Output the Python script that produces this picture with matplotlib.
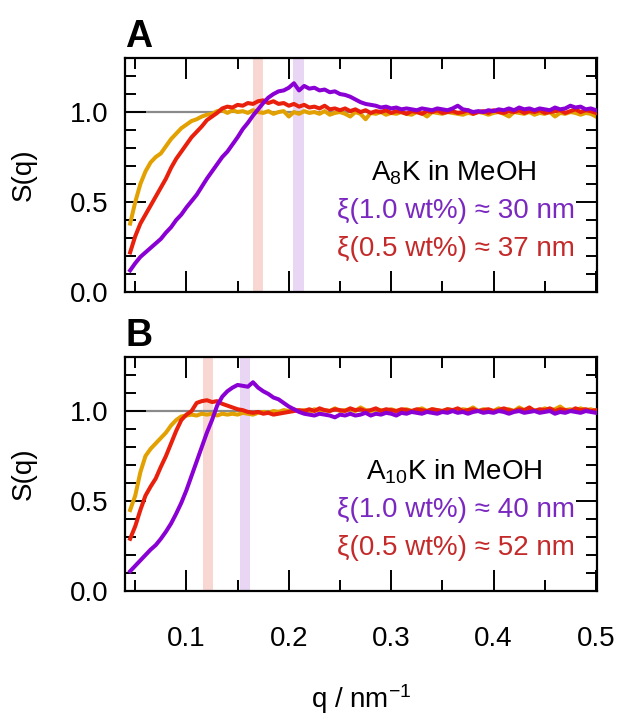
import numpy as np
import matplotlib
matplotlib.use("Agg")
import matplotlib.pyplot as plt
from matplotlib.ticker import MultipleLocator

plt.rcParams['font.family'] = ['Liberation Sans', 'DejaVu Sans']
plt.rcParams['mathtext.default'] = 'regular'

# q grid of the sampled curves (nm^-1)
q = np.round(np.arange(0.045, 0.5001, 0.005), 3)

# Panel A: A8K in MeOH
orange_A = [0.38, 0.50, 0.60, 0.67, 0.72, 0.75, 0.77, 0.81, 0.85, 0.88,
            0.91, 0.93, 0.95, 0.96, 0.975, 0.985, 0.99, 1.005, 1.01, 0.995,
            1.01, 1.0, 1.005, 0.995, 1.01, 1.0, 0.995, 1.005, 0.99, 1.0,
            1.005, 0.975, 1.0, 0.99, 1.005, 0.995, 1.0, 0.99, 1.005, 0.985,
            0.995, 1.0, 0.99, 0.975, 1.0, 0.99, 0.96, 0.995, 0.99, 1.0,
            0.985, 0.995, 0.99, 1.0, 0.99, 0.985, 1.0, 0.995, 0.975, 1.0,
            0.995, 0.99, 1.0, 0.995, 0.99, 0.985, 0.995, 0.99, 1.0, 0.995,
            0.985, 0.995, 1.0, 0.99, 0.975, 1.0, 0.995, 0.99, 1.0, 0.985,
            0.995, 0.99, 1.0, 0.975, 0.995, 0.99, 1.0, 0.995, 0.985, 0.995,
            0.99, 0.975]
red_A = [0.22, 0.31, 0.38, 0.43, 0.48, 0.53, 0.58, 0.63, 0.69, 0.74,
         0.78, 0.82, 0.86, 0.89, 0.92, 0.955, 0.975, 0.995, 1.02, 1.03,
         1.025, 1.04, 1.035, 1.05, 1.045, 1.06, 1.065, 1.05, 1.06, 1.045,
         1.05, 1.035, 1.045, 1.03, 1.04, 1.025, 1.03, 1.02, 1.035, 1.015,
         1.02, 1.01, 1.02, 1.005, 1.015, 1.0, 1.01, 0.995, 1.005, 1.0,
         1.01, 0.995, 1.005, 1.0, 0.99, 1.005, 1.0, 0.99, 1.005, 1.0,
         1.01, 0.995, 1.0, 1.005, 0.995, 1.0, 1.01, 0.99, 1.0, 1.005,
         0.995, 1.01, 1.0, 0.995, 1.005, 1.0, 1.01, 0.995, 1.005, 1.0,
         1.01, 0.995, 1.0, 1.005, 1.01, 0.995, 1.005, 1.015, 1.0, 1.01,
         1.005, 0.995]
purple_A = [0.12, 0.16, 0.195, 0.22, 0.245, 0.27, 0.295, 0.33, 0.36, 0.40,
            0.43, 0.47, 0.505, 0.54, 0.585, 0.63, 0.67, 0.71, 0.75, 0.78,
            0.82, 0.86, 0.905, 0.94, 0.98, 1.015, 1.05, 1.08, 1.10, 1.115,
            1.12, 1.135, 1.16, 1.12, 1.145, 1.13, 1.135, 1.12, 1.125, 1.11,
            1.115, 1.10, 1.095, 1.085, 1.07, 1.055, 1.045, 1.04, 1.035, 1.025,
            1.03, 1.02, 1.025, 1.015, 1.02, 1.015, 1.01, 1.02, 1.015, 1.01,
            1.02, 1.015, 1.01, 1.02, 1.035, 1.015, 1.01, 1.0, 1.005, 1.0,
            1.01, 1.005, 1.015, 1.01, 1.02, 1.01, 1.025, 1.015, 1.02, 1.01,
            1.02, 1.015, 1.01, 1.025, 1.015, 1.02, 1.035, 1.025, 1.03, 1.015,
            1.02, 1.01]

# Panel B: A10K in MeOH
orange_B = [0.45, 0.53, 0.66, 0.75, 0.79, 0.82, 0.85, 0.88, 0.92, 0.95,
            0.97, 0.975, 0.98, 0.975, 0.985, 0.98, 0.985, 0.975, 0.985, 0.98,
            0.985, 0.98, 0.99, 0.985, 0.98, 0.99, 0.995, 0.99, 1.0, 0.995,
            1.005, 1.0, 1.01, 1.0, 1.005, 0.995, 1.01, 1.0, 1.005, 1.0,
            1.015, 1.0, 1.005, 1.01, 1.0, 1.02, 1.005, 1.0, 1.01, 1.005,
            1.0, 1.01, 1.0, 1.005, 1.01, 1.0, 1.005, 1.015, 1.0, 1.01,
            1.005, 1.0, 1.01, 1.005, 1.0, 1.01, 1.005, 1.02, 1.0, 1.01,
            1.005, 1.0, 1.015, 1.005, 1.01, 1.0, 1.02, 1.005, 1.01, 1.005,
            1.0, 1.015, 1.005, 1.01, 1.025, 1.005, 1.01, 1.0, 1.015, 1.005,
            1.01, 1.0]
red_B = [0.29, 0.36, 0.45, 0.53, 0.58, 0.625, 0.69, 0.75, 0.82, 0.89,
         0.95, 0.98, 1.0, 1.045, 1.055, 1.06, 1.05, 1.055, 1.04, 1.03,
         1.02, 1.01, 1.005, 0.995, 0.99, 0.995, 0.985, 0.99, 0.98, 0.985,
         0.99, 0.995, 1.0, 1.005, 1.0, 1.01, 1.0, 1.015, 1.005, 1.0,
         1.01, 1.005, 1.0, 1.015, 1.005, 1.01, 1.0, 1.005, 1.015, 1.0,
         1.01, 1.005, 1.0, 1.01, 1.005, 1.0, 1.01, 1.005, 1.0, 1.01,
         1.005, 1.0, 1.01, 1.005, 1.015, 1.0, 1.005, 1.01, 1.0, 1.005,
         1.01, 1.0, 1.005, 1.015, 1.005, 1.0, 1.01, 1.005, 1.02, 1.0,
         1.01, 1.005, 1.015, 1.0, 1.01, 1.005, 1.0, 1.015, 1.005, 1.01,
         1.0, 1.005]
purple_B = [0.11, 0.14, 0.17, 0.20, 0.23, 0.255, 0.29, 0.33, 0.375, 0.43,
            0.49, 0.56, 0.64, 0.72, 0.80, 0.88, 0.95, 1.03, 1.08, 1.11,
            1.13, 1.145, 1.14, 1.135, 1.16, 1.13, 1.11, 1.095, 1.075, 1.065,
            1.045, 1.025, 1.01, 0.995, 0.985, 0.98, 0.975, 0.985, 0.98, 0.975,
            0.965, 0.98, 0.975, 0.985, 0.975, 0.98, 0.99, 0.975, 0.985, 0.98,
            0.99, 0.985, 0.975, 0.99, 0.985, 0.995, 0.99, 0.985, 0.995, 0.99,
            0.985, 0.995, 0.99, 1.0, 0.99, 0.995, 0.985, 0.995, 1.0, 0.99,
            0.995, 0.99, 1.0, 0.995, 0.985, 0.995, 1.0, 0.99, 0.995, 1.0,
            0.99, 0.995, 1.0, 0.985, 0.995, 0.99, 1.0, 0.995, 0.99, 1.0,
            0.995, 0.99]

# correlation lengths (nm) -> marked at q = 2*pi/xi
xi_A = {"1.0": 30, "0.5": 37}
xi_B = {"1.0": 40, "0.5": 52}

C_ORANGE = "#e2a100"
C_RED = "#e8200c"
C_PURPLE = "#8a00d4"


def draw_panel(ax, orange, red, purple, xi, name, letter):
    ax.axvspan(2 * np.pi / xi["0.5"] - 0.005, 2 * np.pi / xi["0.5"] + 0.005,
               color="#f8d6d2", lw=0, zorder=0)
    ax.axvspan(2 * np.pi / xi["1.0"] - 0.005, 2 * np.pi / xi["1.0"] + 0.005,
               color="#e9d6f4", lw=0, zorder=0)
    ax.axhline(1.0, color="#8a8a8a", lw=1.6, zorder=1)
    ax.plot(q, orange, color=C_ORANGE, lw=2.9, zorder=2)
    ax.plot(q, red, color=C_RED, lw=2.9, zorder=3)
    ax.plot(q, purple, color=C_PURPLE, lw=2.9, zorder=4)

    ax.set_xlim(0.04, 0.501)
    ax.set_ylim(0, 1.3)
    ax.xaxis.set_major_locator(MultipleLocator(0.1))
    ax.xaxis.set_minor_locator(MultipleLocator(0.05))
    ax.yaxis.set_major_locator(MultipleLocator(0.5))
    ax.yaxis.set_minor_locator(MultipleLocator(0.1))
    ax.tick_params(which="both", direction="in", top=True, right=True,
                   width=1.4, labelsize=20)
    ax.tick_params(which="major", length=15)
    ax.tick_params(which="minor", length=8)
    ax.tick_params(axis="x", pad=25)
    ax.tick_params(axis="y", pad=12)
    ax.yaxis.set_major_formatter(plt.FormatStrFormatter("%.1f"))
    for s in ax.spines.values():
        s.set_linewidth(1.6)
    ax.set_ylabel("S(q)", fontsize=20, labelpad=24)

    ax.text(0.697, 0.51, name, transform=ax.transAxes, ha="center",
            va="center", fontsize=20, color="black")
    ax.text(0.953, 0.345, f"ξ(1.0 wt%) ≈ {xi['1.0']} nm",
            transform=ax.transAxes, ha="right", va="center", fontsize=20,
            color="#7a28c0")
    ax.text(0.953, 0.183, f"ξ(0.5 wt%) ≈ {xi['0.5']} nm",
            transform=ax.transAxes, ha="right", va="center", fontsize=20,
            color="#c42a2a")
    ax.text(0.0, 1.047, letter, transform=ax.transAxes, ha="left",
            va="baseline", fontsize=27, fontweight="bold")


fig = plt.figure(figsize=(6.21, 7.21), dpi=100)
axA = fig.add_axes([0.2013, 0.595, 0.760, 0.3245])
axB = fig.add_axes([0.2013, 0.1803, 0.760, 0.3245])

draw_panel(axA, orange_A, red_A, purple_A, xi_A, "A$_8$K in MeOH", "A")
draw_panel(axB, orange_B, red_B, purple_B, xi_B, "A$_{10}$K in MeOH", "B")
axA.set_xticklabels([])
axB.xaxis.set_major_formatter(plt.FormatStrFormatter("%.1f"))
axB.set_xlabel("q / nm$^{\\mathregular{-1}}$", fontsize=20, labelpad=22)

fig.savefig("out.png", dpi=100)
plt.close(fig)
